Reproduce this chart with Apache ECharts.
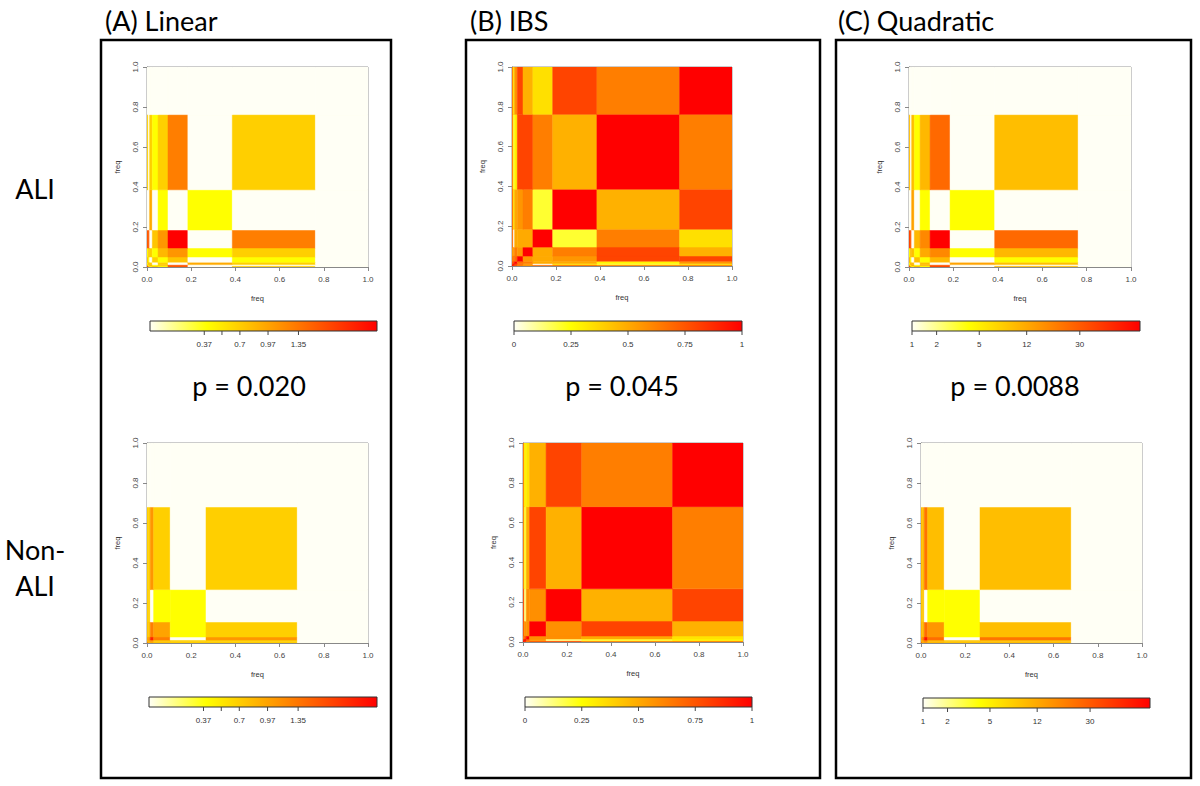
<!DOCTYPE html>
<html><head><meta charset="utf-8">
<script src="https://cdn.jsdelivr.net/npm/echarts@6/dist/echarts.min.js"></script>
<style>html,body{margin:0;padding:0;background:#fff}#c{width:1200px;height:786px}</style>
</head><body><div id="c"></div>
<script>
// ---------- DATA ----------
// frequency-bin edges (ALI sample, Non-ALI sample)
const aliEdges = [0, 0.006, 0.012, 0.024, 0.05, 0.095, 0.185, 0.386, 0.762, 1.0];
const nonAliEdges = [0, 0.006, 0.015, 0.03, 0.105, 0.267, 0.68, 1.0];

// symmetric kernel matrices, lower triangle, in colour-scale units (0..1)
const linearAli = [
  [0.84],
  [0.42, 0.25],
  [0.25, 0.50, 0.39],
  [0.42, 0.25, 0.00, 0.39],
  [0.25, 0.42, 0.39, 0.25, 0.46],
  [0.74, 0.74, 0.00, 0.42, 0.56, 1.00],
  [0.00, 0.00, 0.50, 0.00, 0.25, 0.00, 0.25],
  [0.39, 0.00, 0.39, 0.25, 0.39, 0.63, 0.00, 0.39],
  [0.00, 0.00, 0.00, 0.00, 0.00, 0.00, 0.00, 0.00, 0.00]
];
const ibsAli = [
  [1.00],
  [0.84, 1.00],
  [0.74, 0.84, 1.00],
  [0.63, 0.68, 0.68, 1.00],
  [0.56, 0.56, 0.63, 0.56, 1.00],
  [0.68, 0.00, 0.50, 0.50, 0.50, 1.00],
  [0.68, 0.33, 0.50, 0.56, 0.63, 0.20, 1.00],
  [0.63, 0.20, 0.28, 0.80, 0.80, 0.63, 0.48, 1.00],
  [0.63, 0.33, 0.56, 0.80, 0.48, 0.34, 0.80, 0.63, 1.00]
];
const quadraticAli = [
  [0.84],
  [0.46, 0.25],
  [0.25, 0.52, 0.44],
  [0.46, 0.25, 0.00, 0.44],
  [0.25, 0.46, 0.44, 0.25, 0.50],
  [0.80, 0.74, 0.00, 0.46, 0.60, 1.00],
  [0.00, 0.00, 0.52, 0.00, 0.25, 0.00, 0.25],
  [0.44, 0.00, 0.44, 0.25, 0.46, 0.69, 0.00, 0.44],
  [0.00, 0.00, 0.00, 0.00, 0.00, 0.00, 0.00, 0.00, 0.00]
];
const linearNonAli = [
  [0.68],
  [0.42, 0.50],
  [0.50, 0.56, 0.90],
  [0.42, 0.42, 0.63, 0.52],
  [0.39, 0.39, 0.00, 0.25, 0.25],
  [0.39, 0.39, 0.56, 0.39, 0.00, 0.39],
  [0.00, 0.00, 0.00, 0.00, 0.00, 0.00, 0.00]
];
const ibsNonAli = [
  [1.00],
  [0.84, 1.00],
  [0.63, 0.74, 1.00],
  [0.74, 0.56, 0.58, 1.00],
  [0.80, 0.12, 0.58, 0.58, 1.00],
  [0.63, 0.20, 0.50, 0.80, 0.48, 1.00],
  [0.63, 0.28, 0.33, 0.48, 0.80, 0.63, 1.00]
];
const quadraticNonAli = [
  [0.74],
  [0.46, 0.52],
  [0.52, 0.63, 0.95],
  [0.46, 0.46, 0.68, 0.56],
  [0.42, 0.42, 0.00, 0.25, 0.25],
  [0.44, 0.44, 0.66, 0.44, 0.00, 0.44],
  [0.00, 0.00, 0.00, 0.00, 0.00, 0.00, 0.00]
];

const panelTitles = ['(A) Linear', '(B) IBS', '(C) Quadratic'];
const pValues = ['p = 0.020', 'p = 0.045', 'p = 0.0088'];
const rowLabels = ['ALI', 'Non-\nALI'];
const freqTicks = [0, 0.2, 0.4, 0.6, 0.8, 1.0];

// colour-key ticks: position along key (0..1) and label
const linearKeyPos = [0.239, 0.317, 0.396, 0.52, 0.654];
const linearKeyLabels = ['0.37', '', '0.7', '0.97', '1.35'];
const ibsKeyPos = [0, 0.25, 0.5, 0.75, 1];
const ibsKeyLabels = ['0', '0.25', '0.5', '0.75', '1'];
const quadKeyPos = [0, 0.108, 0.295, 0.503, 0.736];
const quadKeyLabels = ['1', '2', '5', '12', '30'];

// ---------- STYLE / LAYOUT ----------
const PALETTE = ['#FFFFF5', '#FFFF00', '#FFAA00', '#FF5500', '#FF0000'];
const AXIS_FONT = 'Liberation Sans';
const heatLayout = [
  {left: 147, top: 67, width: 221, height: 200},
  {left: 512, top: 67, width: 220, height: 199},
  {left: 909, top: 67, width: 222, height: 200},
  {left: 147, top: 443, width: 221, height: 200},
  {left: 523, top: 443, width: 220, height: 199},
  {left: 921, top: 443, width: 221, height: 200}
];
const keyLayout = [
  {left: 150, top: 321, width: 227, height: 10},
  {left: 514, top: 321, width: 228, height: 10},
  {left: 912, top: 321, width: 228, height: 10},
  {left: 149, top: 697, width: 228, height: 10},
  {left: 525, top: 697, width: 227, height: 10},
  {left: 923, top: 698, width: 227, height: 10}
];

function buildCells(edges, tri) {
  const n = edges.length - 1, out = [];
  for (let i = 0; i < n; i++) for (let j = 0; j < n; j++) {
    const v = i >= j ? tri[i][j] : tri[j][i];
    out.push([edges[j], edges[j + 1], edges[i], edges[i + 1], v]);
  }
  return out;
}
const heatData = [
  buildCells(aliEdges, linearAli), buildCells(aliEdges, ibsAli), buildCells(aliEdges, quadraticAli),
  buildCells(nonAliEdges, linearNonAli), buildCells(nonAliEdges, ibsNonAli), buildCells(nonAliEdges, quadraticNonAli)
];
const keyPos = [linearKeyPos, ibsKeyPos, quadKeyPos, linearKeyPos, ibsKeyPos, quadKeyPos];
const keyLabels = [linearKeyLabels, ibsKeyLabels, quadKeyLabels, linearKeyLabels, ibsKeyLabels, quadKeyLabels];

function renderCell(params, api) {
  const a = api.coord([api.value(0), api.value(3)]);
  const b = api.coord([api.value(1), api.value(2)]);
  const c = api.visual('color');
  return {type: 'rect', shape: {x: a[0], y: a[1], width: b[0] - a[0], height: b[1] - a[1]},
    style: {fill: c, stroke: c, lineWidth: 0.5}};
}
function renderKey(params, api) {
  const a = api.coord([0, 1]), b = api.coord([1, 0]);
  return {type: 'rect', shape: {x: a[0], y: a[1], width: b[0] - a[0], height: b[1] - a[1]},
    style: {fill: new echarts.graphic.LinearGradient(0, 0, 1, 0,
      PALETTE.map((c, k) => ({offset: k / (PALETTE.length - 1), color: c}))), stroke: '#333', lineWidth: 1}};
}
function keyTickRenderer(labels) {
  return function (params, api) {
    const p = api.coord([api.value(0), 0]);
    return {type: 'group', children: [
      {type: 'line', shape: {x1: p[0], y1: p[1], x2: p[0], y2: p[1] + 4}, style: {stroke: '#444', lineWidth: 1}},
      {type: 'text', style: {text: labels[params.dataIndex], x: p[0], y: p[1] + 9, align: 'center', verticalAlign: 'top',
        fontSize: 8, fontFamily: AXIS_FONT, fill: '#333'}}
    ]};
  };
}

const grids = [], xAxes = [], yAxes = [], series = [];
heatLayout.forEach((g, i) => {
  grids.push(Object.assign({show: true, borderColor: '#999', borderWidth: 1, backgroundColor: 'transparent'}, g));
  const common = {
    gridIndex: i, type: 'value', min: freqTicks[0], max: freqTicks[freqTicks.length - 1], interval: 0.2,
    name: 'freq', nameLocation: 'middle',
    nameTextStyle: {fontSize: 7.5, color: '#333', fontFamily: AXIS_FONT},
    axisLine: {show: true, lineStyle: {color: '#888', width: 1}},
    axisTick: {show: true, length: 4, lineStyle: {color: '#888'}},
    splitLine: {show: false},
    axisLabel: {fontSize: 8, color: '#444', fontFamily: AXIS_FONT, formatter: v => v.toFixed(1)}
  };
  xAxes.push(Object.assign({}, common, {nameGap: 27, axisLabel: Object.assign({}, common.axisLabel, {margin: 8})}));
  yAxes.push(Object.assign({}, common, {nameGap: 26, axisLabel: Object.assign({}, common.axisLabel, {margin: 8, rotate: 90})}));
  series.push({type: 'custom', xAxisIndex: i, yAxisIndex: i, renderItem: renderCell, clip: true,
    encode: {x: [0, 1], y: [2, 3]}, data: heatData[i], silent: true});
});
keyLayout.forEach((g, k) => {
  const gi = 6 + k;
  grids.push(Object.assign({show: false}, g));
  xAxes.push({gridIndex: gi, type: 'value', min: 0, max: 1, show: false});
  yAxes.push({gridIndex: gi, type: 'value', min: 0, max: 1, show: false});
  series.push({type: 'custom', xAxisIndex: gi, yAxisIndex: gi, renderItem: renderKey, data: [[0, 0]], silent: true});
  series.push({type: 'custom', xAxisIndex: gi, yAxisIndex: gi, renderItem: keyTickRenderer(keyLabels[k]),
    data: keyPos[k].map(p => [p, 0]), silent: true});
});

const BIG = '27px Lato';
const graphics = [
  {type: 'rect', shape: {x: 101, y: 40, width: 290, height: 738}, style: {fill: 'none', stroke: '#000', lineWidth: 2.5}},
  {type: 'rect', shape: {x: 466, y: 40, width: 354, height: 738}, style: {fill: 'none', stroke: '#000', lineWidth: 2.5}},
  {type: 'rect', shape: {x: 836, y: 40, width: 355, height: 738}, style: {fill: 'none', stroke: '#000', lineWidth: 2.5}}
];
const titleX = [105, 470, 838];
panelTitles.forEach((t, i) => graphics.push({type: 'text', style: {text: t, x: titleX[i], y: 20, align: 'left', verticalAlign: 'middle',
  font: BIG, fill: '#000'}}));
const pX = [249, 622, 1015];
pValues.forEach((t, i) => graphics.push({type: 'text', style: {text: t, x: pX[i], y: 385, align: 'center', verticalAlign: 'middle',
  font: BIG, fill: '#000'}}));
graphics.push({type: 'text', style: {text: rowLabels[0], x: 35, y: 188, align: 'center', verticalAlign: 'middle', font: BIG, fill: '#000'}});
graphics.push({type: 'text', style: {text: rowLabels[1], x: 35, y: 567, align: 'center', verticalAlign: 'middle', font: BIG, fill: '#000', lineHeight: 36}});

const chart = echarts.init(document.getElementById('c'), null, {renderer: 'svg'});
chart.setOption({
  animation: false,
  backgroundColor: '#fff',
  grid: grids, xAxis: xAxes, yAxis: yAxes, series: series,
  visualMap: {show: false, type: 'continuous', min: 0, max: 1, dimension: 4, seriesIndex: [0, 1, 2, 3, 4, 5],
    inRange: {color: PALETTE}},
  graphic: {elements: graphics}
});
</script></body></html>
